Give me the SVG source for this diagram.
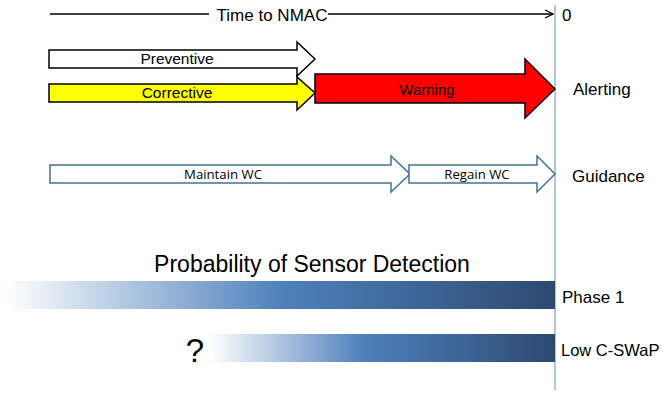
<svg xmlns="http://www.w3.org/2000/svg" width="663" height="393" viewBox="0 0 663 393">
<style>
.lbl{font-family:"Liberation Sans",Arial,sans-serif;fill:#000}
.cal{font-family:"Open Sans","Noto Sans",sans-serif;fill:#000}
.blk{stroke:#000;stroke-width:1.5;stroke-linejoin:miter}
.blu{fill:#fff;stroke:#41719C;stroke-width:1.5}
</style>
<defs>
<marker id="ah" markerWidth="10" markerHeight="10" refX="9" refY="5" orient="auto" markerUnits="userSpaceOnUse">
<path d="M1,1 L9,5 L1,9" fill="none" stroke="#000" stroke-width="1.3"/>
</marker>
<linearGradient id="g1" x1="0" x2="1" y1="0" y2="0">
<stop offset="0" stop-color="#fff"/>
<stop offset="0.5" stop-color="#4F81BD"/>
<stop offset="1" stop-color="#2C4A70"/>
</linearGradient>
<linearGradient id="g2" x1="0" x2="1" y1="0" y2="0">
<stop offset="0" stop-color="#fff"/>
<stop offset="0.44" stop-color="#4F81BD"/>
<stop offset="1" stop-color="#2C4A70"/>
</linearGradient>
</defs>
<line x1="555" y1="5" x2="555" y2="390" stroke="#95B3D7" stroke-width="1.5"/>
<g id="connectors">
<line x1="50" y1="14" x2="553" y2="14" stroke="#000" stroke-width="1.3" marker-end="url(#ah)"/>
</g>
<rect x="209" y="5" width="119" height="18" fill="#fff"/>
<text class="lbl" x="272" y="20.5" font-size="17" text-anchor="middle">Time to NMAC</text>
<text class="lbl" x="562" y="20.5" font-size="17">0</text>
<g id="preventive">
<path class="blk" fill="#fff" d="M49,50 H297 V42 L315,59 L297,76 V68 H49 Z"/>
<text class="lbl" x="177" y="64" font-size="15.5" text-anchor="middle">Preventive</text>
</g>
<g id="corrective">
<path class="blk" fill="#FFFF00" d="M49,84 H297 V77 L315,93 L297,110 V102 H49 Z"/>
<text class="lbl" x="177" y="98" font-size="15.5" text-anchor="middle">Corrective</text>
</g>
<g id="warning">
<path class="blk" fill="#FF0000" d="M315,74 H525 V59 L555,89 L525,118 V103 H315 Z"/>
<text class="lbl" x="427" y="95" font-size="15" text-anchor="middle">Warning</text>
</g>
<text class="lbl" x="573" y="95" font-size="17">Alerting</text>
<g id="maintain">
<path class="blu" d="M50,165 H391 V156 L410,174 L391,192 V183 H50 Z"/>
<text class="cal" x="223" y="178.5" font-size="13.2" text-anchor="middle">Maintain WC</text>
</g>
<g id="regain">
<path class="blu" d="M409,165 H537 V156 L555,174 L537,192 V183 H409 Z"/>
<text class="cal" x="477" y="178.5" font-size="13.2" text-anchor="middle">Regain WC</text>
</g>
<text class="lbl" x="572" y="182" font-size="17">Guidance</text>
<text class="lbl" x="312" y="272" font-size="23" text-anchor="middle">Probability of Sensor Detection</text>
<g id="phase1">
<rect x="5" y="281" width="550" height="28" fill="url(#g1)"/>
<text class="lbl" x="562" y="303" font-size="17">Phase 1</text>
</g>
<g id="lowcswap">
<rect x="210" y="334" width="345" height="28" fill="url(#g2)"/>
<text class="lbl" x="195" y="362" font-size="33" text-anchor="middle">?</text>
<text class="lbl" x="561" y="356" font-size="16.5">Low C-SWaP</text>
</g>
</svg>
